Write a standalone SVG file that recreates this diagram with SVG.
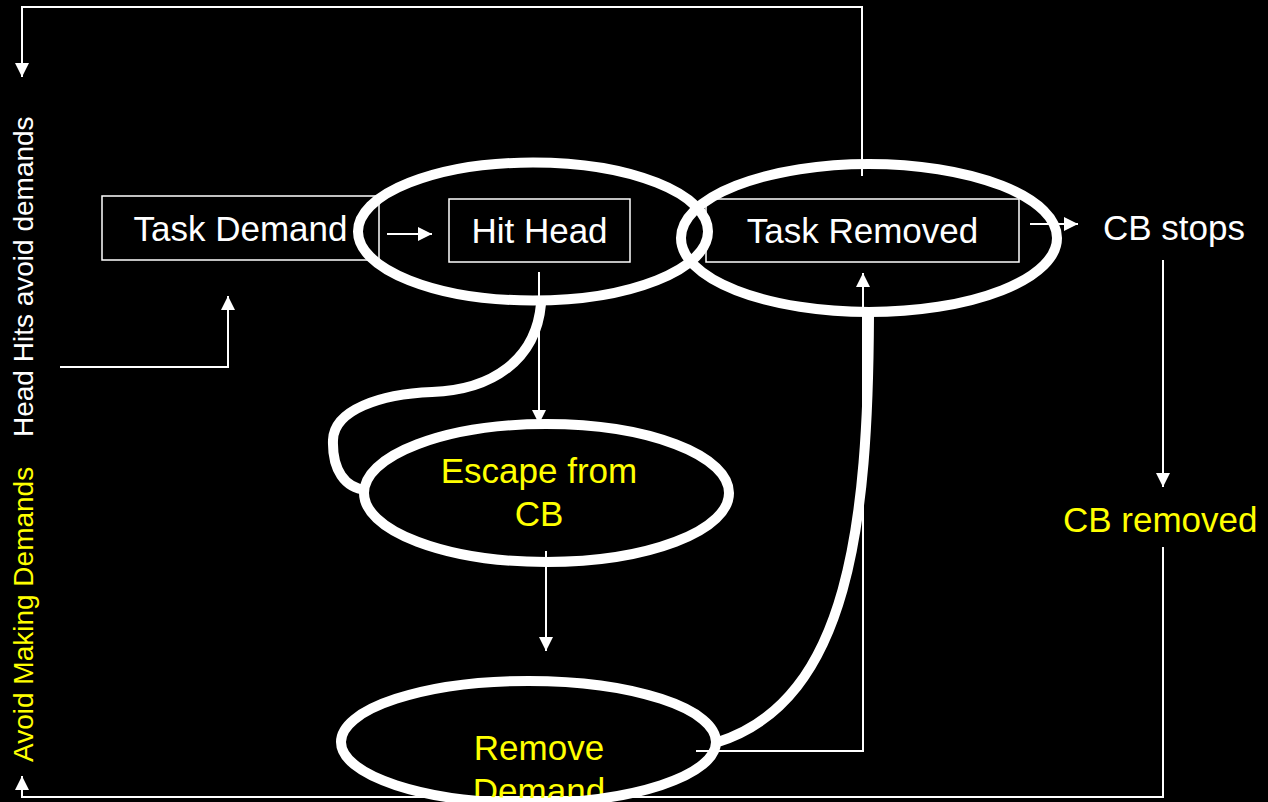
<svg xmlns="http://www.w3.org/2000/svg" width="1268" height="802" viewBox="0 0 1268 802">
  <style>
    .bg { fill: #000000; }
    .box { fill: none; stroke: #FFFFFF; stroke-width: 1.5; }
    .ring { fill: none; stroke: #FFFFFF; stroke-width: 10; }
    .wire { fill: none; stroke: #FFFFFF; stroke-width: 2; }
    .lbl { font-family: "Liberation Sans", Arial, sans-serif; font-size: 35px; }
    .side { font-family: "Liberation Sans", Arial, sans-serif; font-size: 28px; }
    .w { fill: #FFFFFF; }
    .y { fill: #FFFF00; }
    .mid { text-anchor: middle; }
  </style>
  <defs>
    <marker id="arrow" viewBox="0 0 14 14" refX="14" refY="7" markerWidth="14" markerHeight="14" markerUnits="userSpaceOnUse" orient="auto">
      <path d="M0,0 L14,7 L0,14 Z" fill="#FFFFFF"/>
    </marker>
  </defs>

  <rect class="bg" x="0" y="0" width="1268" height="802"/>

  <!-- side captions -->
  <text class="side w" transform="translate(33,437) rotate(-90)">Head Hits avoid demands</text>
  <text class="side y" transform="translate(33,762) rotate(-90)">Avoid Making Demands</text>

  <!-- connectors -->
  <g id="connectors">
    <polyline class="wire" points="862,176 862,7 22,7 22,77" marker-end="url(#arrow)"/>
    <polyline class="wire" points="60,367 228,367 228,296" marker-end="url(#arrow)"/>
    <line class="wire" x1="387" y1="234" x2="432" y2="234" marker-end="url(#arrow)"/>
    <line class="wire" x1="539" y1="272" x2="539" y2="424" marker-end="url(#arrow)"/>
    <line class="wire" x1="546" y1="551" x2="546" y2="651" marker-end="url(#arrow)"/>
    <polyline class="wire" points="696,751 863,751 863,273" marker-end="url(#arrow)"/>
    <line class="wire" x1="1030" y1="224" x2="1078" y2="224" marker-end="url(#arrow)"/>
    <line class="wire" x1="1163" y1="260" x2="1163" y2="487" marker-end="url(#arrow)"/>
    <polyline class="wire" points="1163,547 1163,797 22,797 22,776" marker-end="url(#arrow)"/>
  </g>

  <!-- boxed steps -->
  <g id="task-demand">
    <rect class="box" x="102" y="196" width="277" height="64"/>
    <text class="lbl w mid" x="240.5" y="241">Task Demand</text>
  </g>
  <g id="hit-head">
    <rect class="box" x="449" y="199" width="181" height="63"/>
    <text class="lbl w mid" x="539.5" y="243">Hit Head</text>
  </g>
  <g id="task-removed">
    <rect class="box" x="706" y="199" width="313" height="63"/>
    <text class="lbl w mid" x="862.5" y="243">Task Removed</text>
  </g>
  <g id="cb-stops">
    <text class="lbl w" x="1103" y="240">CB stops</text>
  </g>
  <g id="cb-removed">
    <text class="lbl y" x="1063" y="532">CB removed</text>
  </g>

  <!-- ringed stages -->
  <g id="escape">
    <text class="lbl y mid" x="539" y="483">Escape from</text>
    <text class="lbl y mid" x="539" y="526">CB</text>
    <ellipse class="ring" cx="546.5" cy="493" rx="182.5" ry="69"/>
  </g>
  <g id="remove-demand">
    <text class="lbl y mid" x="539" y="760">Remove</text>
    <text class="lbl y mid" x="539" y="803">Demand</text>
    <ellipse class="ring" cx="528.5" cy="742" rx="187.5" ry="61"/>
  </g>
  <g id="hit-head-ring">
    <ellipse class="ring" cx="533" cy="231.5" rx="175" ry="69"/>
  </g>
  <g id="task-removed-ring">
    <ellipse class="ring" cx="869" cy="238" rx="188" ry="74"/>
  </g>

  <!-- thick links between rings -->
  <g id="ring-links">
    <path class="ring" d="M541,304 C536,360 492,390 432,392 C380,394 334,410 333,440 C332,470 345,488 366,490"/>
    <path class="ring" d="M869,316 C868,520 850,700 718,742"/>
  </g>
</svg>
